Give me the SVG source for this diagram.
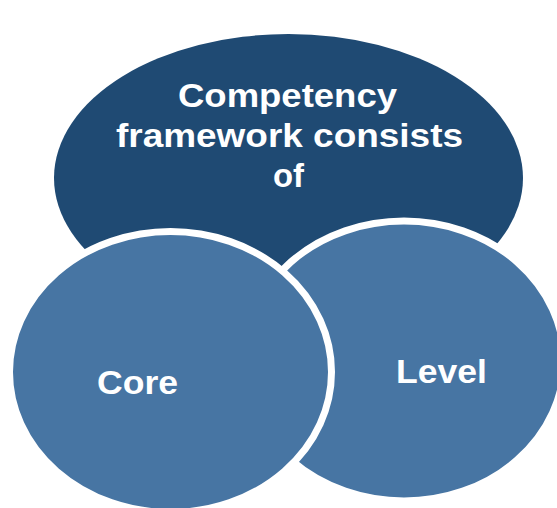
<svg xmlns="http://www.w3.org/2000/svg" width="557" height="508" viewBox="0 0 557 508">
<style>
.dark{fill:#1F4A73;}
.light{fill:#4775A3;stroke:#FFFFFF;stroke-width:7;}
.lbl{font-family:"Liberation Sans",Arial,sans-serif;font-weight:bold;fill:#FFFFFF;text-anchor:middle;}
</style>
<rect width="557" height="508" fill="#FFFFFF"/>
<g id="node-framework">
<ellipse class="dark" cx="288.5" cy="178" rx="234.5" ry="144"/>
<text class="lbl" font-size="34" x="287.5" y="107" textLength="219" lengthAdjust="spacingAndGlyphs">Competency</text>
<text class="lbl" font-size="34" x="289.5" y="147" textLength="347" lengthAdjust="spacingAndGlyphs">framework consists</text>
<text class="lbl" font-size="34" x="288.5" y="187" textLength="31" lengthAdjust="spacingAndGlyphs">of</text>
</g>
<g id="node-level">
<ellipse class="light" cx="404" cy="361" rx="160" ry="140"/>
<text class="lbl" font-size="33" x="441.5" y="383" textLength="91" lengthAdjust="spacingAndGlyphs">Level</text>
</g>
<g id="node-core">
<ellipse class="light" cx="170.5" cy="372" rx="161" ry="140.5"/>
<text class="lbl" font-size="33" x="137.5" y="394" textLength="81" lengthAdjust="spacingAndGlyphs">Core</text>
</g>
<g id="connectors"></g>
</svg>
